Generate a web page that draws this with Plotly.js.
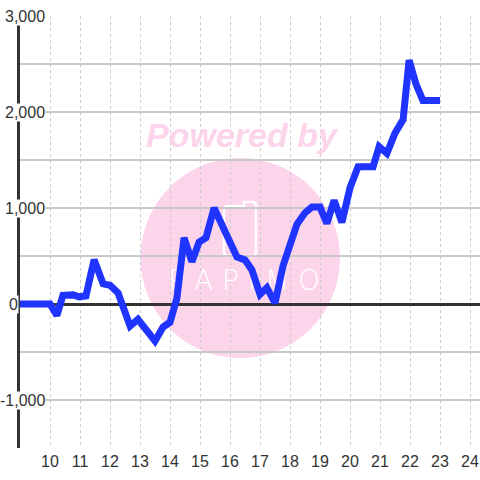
<!DOCTYPE html>
<html>
<head>
<meta charset="utf-8">
<script src="https://cdn.plot.ly/plotly-3.0.1.min.js"></script>
<style>html,body{margin:0;padding:0;background:#fff;}#chart{width:480px;height:480px;}</style>
</head>
<body>
<div id="chart"></div>
<script>
// Data
const xValues = [9.0, 10.0, 10.23, 10.43, 10.77, 10.97, 11.2, 11.47, 11.77, 12.0, 12.27, 12.67, 12.93, 13.5, 13.77, 14.0, 14.23, 14.47, 14.73, 14.97, 15.2, 15.47, 16.23, 16.5, 16.73, 17.0, 17.23, 17.5, 17.77, 18.23, 18.5, 18.73, 19.0, 19.23, 19.47, 19.73, 20.0, 20.27, 20.77, 20.97, 21.23, 21.5, 21.77, 21.97, 22.2, 22.43, 23.0];
const yValues = [0, 0, -120, 90, 95, 75, 85, 460, 210, 195, 115, -230, -160, -385, -240, -190, 60, 690, 440, 645, 690, 1000, 490, 460, 355, 100, 170, 10, 400, 830, 950, 1010, 1010, 840, 1080, 850, 1210, 1430, 1430, 1640, 1570, 1780, 1920, 2540, 2290, 2120, 2120];
const xTickValues = [10, 11, 12, 13, 14, 15, 16, 17, 18, 19, 20, 21, 22, 23, 24];
const yTickValues = [3000, 2000, 1000, 0, -1000];
const yTickLabels = ["3,000", "2,000", "1,000", "0", "-1,000"];
const watermarkTop = "Powered by";
const watermarkBrand = "PAPIMO";

// pixel helpers (plot area: left 20, right 480, top 16, bottom 448)
const L = 20, R = 480, T = 16, B = 448;
const px = p => (p - L) / (R - L);
const py = p => (B - p) / (B - T);

const pink = "#fcd5ea";
const labelFont = {family: "Liberation Sans, Arial, sans-serif", size: 16, color: "#333333"};

const annotations = yTickValues.map((v, i) => ({
  xref: "paper", yref: "y",
  x: v === 0 ? px(19) : px(45.5), y: v,
  xanchor: "right", yanchor: "middle",
  text: yTickLabels[i], showarrow: false,
  bgcolor: "#ffffff", borderpad: 0,
  font: labelFont
}));
annotations.push({
  xref: "paper", yref: "paper", x: px(242), y: py(135),
  xanchor: "center", yanchor: "middle", showarrow: false,
  text: "<b><i>" + watermarkTop + "</i></b>",
  font: {family: "Liberation Sans, Arial, sans-serif", size: 34, color: pink}
});

const shapes = [
  {type: "circle", xref: "paper", yref: "paper", layer: "below",
   x0: px(140.5), x1: px(340), y0: py(358), y1: py(158),
   fillcolor: pink, line: {width: 0}},
  {type: "path", xref: "paper", yref: "paper", layer: "below",
   path: `M ${px(228)} ${py(206)} L ${px(244)} ${py(206)} L ${px(244)} ${py(202)} L ${px(252)} ${py(202)} Q ${px(256)} ${py(202)} ${px(256)} ${py(206)} L ${px(256)} ${py(252)} Q ${px(256)} ${py(256)} ${px(252)} ${py(256)} L ${px(228)} ${py(256)} Q ${px(224)} ${py(256)} ${px(224)} ${py(252)} L ${px(224)} ${py(210)} Q ${px(224)} ${py(206)} ${px(228)} ${py(206)} Z`,
   line: {color: "#ffffff", width: 2.5}}
];

const brandTrace = {
  type: "scatter", mode: "text",
  x: [16.47], y: [220],
  text: [watermarkBrand.split("").join(" ")],
  textfont: {family: "DejaVu Sans, sans-serif", size: 28, color: "#ffffff", weight: 300},
  hoverinfo: "skip", showlegend: false
};

const lineTrace = {
  type: "scatter", mode: "lines",
  x: xValues, y: yValues,
  line: {color: "#1f35ff", width: 7},
  showlegend: false
};

const layout = {
  width: 480, height: 480,
  margin: {l: L, r: 480 - R, t: T, b: 480 - B},
  paper_bgcolor: "#ffffff", plot_bgcolor: "#ffffff",
  showlegend: false,
  xaxis: {
    range: [9, 24.3333], tickvals: xTickValues, ticktext: xTickValues.map(String),
    showgrid: true, gridcolor: "#cccccc", griddash: "3px,3px", gridwidth: 1,
    zeroline: false, showline: false, ticks: "", ticklabelstandoff: 2,
    tickfont: labelFont
  },
  yaxis: {
    range: [-1500, 3000], dtick: 500, tick0: 0,
    showgrid: true, gridcolor: "#c8c8c8", gridwidth: 1.3,
    zeroline: true, zerolinecolor: "#333333", zerolinewidth: 3,
    showline: true, linecolor: "#333333", linewidth: 3,
    showticklabels: false, ticks: ""
  },
  shapes: shapes,
  annotations: annotations
};

Plotly.newPlot("chart", [brandTrace, lineTrace], layout, {displayModeBar: false, staticPlot: true});
</script>
</body>
</html>
